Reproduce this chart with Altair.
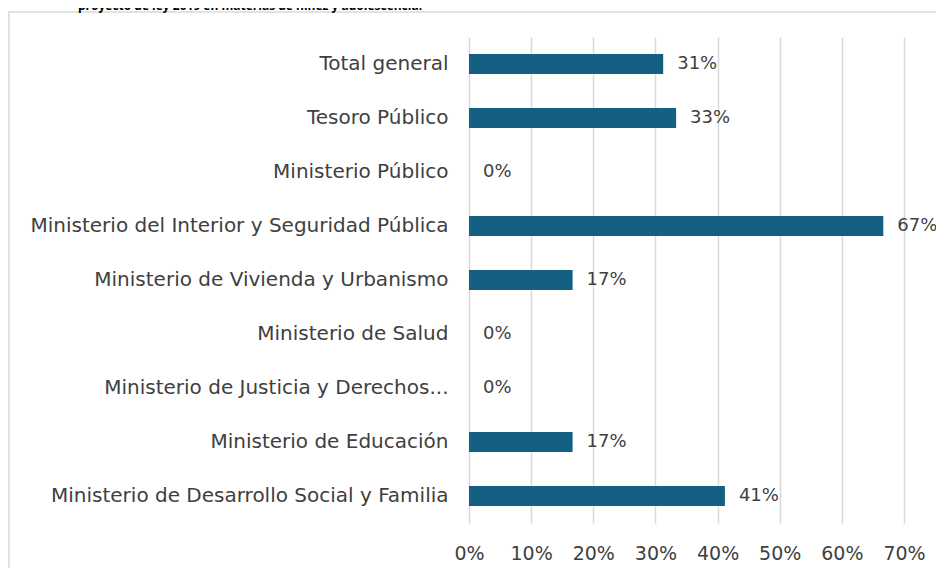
import altair as alt
import pandas as pd

categories = [
    "Total general",
    "Tesoro Público",
    "Ministerio Público",
    "Ministerio del Interior y Seguridad Pública",
    "Ministerio de Vivienda y Urbanismo",
    "Ministerio de Salud",
    "Ministerio de Justicia y Derechos...",
    "Ministerio de Educación",
    "Ministerio de Desarrollo Social y Familia",
]
values = [0.3125, 0.3333, 0.0, 0.6667, 0.1667, 0.0, 0.0, 0.1667, 0.4118]
x_ticks = [0, 0.1, 0.2, 0.3, 0.4, 0.5, 0.6, 0.7]
title_text = "proyecto de ley 2019 en materias de niñez y adolescencia."

df = pd.DataFrame({"categoria": categories, "valor": values})

FONT = "DejaVu Sans"

frame = alt.Chart(pd.DataFrame({"a": [0]})).mark_rect(
    fill=None, stroke="#d9d9d9", strokeWidth=1.5
).encode(
    x=alt.value(-460), x2=alt.value(800), y=alt.value(-25), y2=alt.value(700)
)

title = alt.Chart(pd.DataFrame({"t": [title_text]})).mark_text(
    align="left", baseline="alphabetic", font="Open Sans", fontSize=12, fontWeight="bold",
    color="#000000"
).encode(
    x=alt.value(-391), y=alt.value(-27), text="t:N"
)

base = alt.Chart(df).encode(
    y=alt.Y("categoria:N", sort=categories, title=None,
            axis=alt.Axis(labelFont=FONT, labelFontSize=20, labelColor="#404040",
                          labelPadding=21, ticks=False, domain=False, labelLimit=500)),
)

bars = base.mark_bar(color="#156082", size=20).encode(
    x=alt.X("valor:Q", title=None,
            scale=alt.Scale(domain=[0, 0.7], nice=False),
            axis=alt.Axis(values=x_ticks, format=".0%", labelFont=FONT, labelFontSize=19,
                          labelColor="#404040", labelPadding=21, ticks=False, domain=False,
                          labelFlush=False, gridColor="#d9d9d9", gridWidth=1.5)),
)

labels = base.mark_text(
    align="left", baseline="middle", dx=14, font=FONT, fontSize=18, color="#404040"
).encode(
    x="valor:Q",
    text=alt.Text("valor:Q", format=".0%"),
)

chart = alt.layer(frame, title, bars, labels).properties(
    width=435, height=486,
    autosize=alt.AutoSizeParams(type="none"),
    padding={"left": 461, "top": 29, "right": 32, "bottom": 45},
).configure_view(stroke=None).configure_scale(bandPaddingInner=0.0, bandPaddingOuter=0.0)

chart.save("out.html", embed_options={"renderer": "svg", "actions": False})
